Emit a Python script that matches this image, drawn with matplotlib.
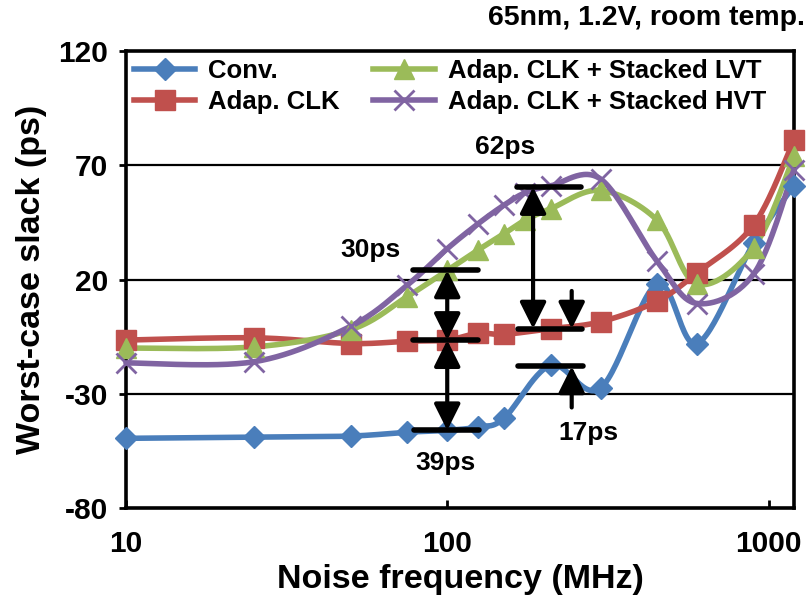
import numpy as np
import matplotlib
matplotlib.use("Agg")
import matplotlib.pyplot as plt

plt.rcParams['font.family'] = ['Liberation Sans', 'DejaVu Sans']
plt.rcParams['font.weight'] = 'bold'
plt.rcParams['axes.unicode_minus'] = False

# Noise frequency (MHz) and worst-case slack (ps) per design
conv_freq = [10, 25, 50, 75, 100, 125, 150, 210, 300, 450, 600, 900, 1200]
conv_slack = [-49.5, -49, -48.5, -46.8, -46, -44.5, -40.8, -17.5, -27.5, 18, -8, 36, 61]

clk_freq = [10, 25, 50, 75, 100, 125, 150, 210, 300, 450, 600, 900, 1200]
clk_slack = [-6.5, -5.5, -8, -7, -6.5, -3.5, -4, -1.5, 1.5, 10.5, 23, 44, 81]

lvt_freq = [10, 25, 50, 75, 100, 125, 150, 175, 210, 300, 450, 600, 900, 1200]
lvt_slack = [-10, -9.5, -2, 12.5, 24, 33, 40, 46, 51, 59, 46, 18, 34, 74]

hvt_freq = [10, 25, 50, 75, 100, 125, 150, 175, 210, 300, 450, 600, 900, 1200]
hvt_slack = [-16.5, -16, -0.5, 17.5, 33.5, 44.5, 52.5, 58, 61, 64, 28, 9.5, 22.5, 68]

series_names = ["Conv.", "Adap. CLK", "Adap. CLK + Stacked LVT", "Adap. CLK + Stacked HVT"]
y_ticks = [-80, -30, 20, 70, 120]
x_ticks = [10, 100, 1000]


def smooth(xs, ys, n=30):
    """Catmull-Rom curve through the points, in log-x space."""
    lx = np.log10(np.asarray(xs, float))
    y = np.asarray(ys, float)
    px = np.concatenate([[lx[0]], lx, [lx[-1]]])
    py = np.concatenate([[y[0]], y, [y[-1]]])
    t = np.linspace(0, 1, n)
    out_x, out_y = [], []
    for i in range(1, len(px) - 2):
        p0, p1, p2, p3 = px[i - 1], px[i], px[i + 1], px[i + 2]
        q0, q1, q2, q3 = py[i - 1], py[i], py[i + 1], py[i + 2]
        c1x, c1y = p1 + (p2 - p0) / 6, q1 + (q2 - q0) / 6
        c2x, c2y = p2 - (p3 - p1) / 6, q2 - (q3 - q1) / 6
        bx = (1 - t) ** 3 * p1 + 3 * (1 - t) ** 2 * t * c1x + 3 * (1 - t) * t ** 2 * c2x + t ** 3 * p2
        by = (1 - t) ** 3 * q1 + 3 * (1 - t) ** 2 * t * c1y + 3 * (1 - t) * t ** 2 * c2y + t ** 3 * q2
        out_x.append(bx)
        out_y.append(by)
    return 10 ** np.concatenate(out_x), np.concatenate(out_y)


fig = plt.figure(figsize=(8.09, 6.03), dpi=100)
ax = fig.add_axes([0.1557, 0.1575, 0.8257, 0.7579])
ax.set_xscale('log')
ax.set_xlim(10, 1200)
ax.set_ylim(-80, 120)

for yv in y_ticks[1:-1]:
    ax.axhline(yv, color='black', lw=1.6, zorder=1)

styles = [
    (conv_freq, conv_slack, '#4A7EBB', dict(marker='D', markersize=11)),
    (clk_freq, clk_slack, '#C0504D', dict(marker='s', markersize=14)),
    (lvt_freq, lvt_slack, '#9BBB59', dict(marker='^', markersize=15)),
    (hvt_freq, hvt_slack, '#8064A2', dict(marker='x', markersize=15, markeredgewidth=2)),
]
handles = []
for (fx, fy, col, mk), name in zip(styles, series_names):
    sx, sy = smooth(fx, fy)
    ax.plot(sx, sy, color=col, lw=4.0, zorder=3, clip_on=False, solid_capstyle='round')
    ax.plot(fx, fy, linestyle='none', color=col, zorder=4, clip_on=False, **mk)
    h, = ax.plot([], [], color=col, lw=4.0, **mk)
    handles.append(h)

leg = ax.legend(handles, series_names, ncol=2, loc='upper left',
                bbox_to_anchor=(0.0, 1.0), frameon=False, fontsize=18.5,
                handlelength=2.4, handletextpad=0.5, columnspacing=1.3,
                labelspacing=0.3, borderaxespad=0.1, borderpad=0.2, markerscale=1.0)

# Annotation bars and arrows
bar_kw = dict(color='black', lw=4, solid_capstyle='round', zorder=6)
ax.plot([78, 125], [24, 24], **bar_kw)
ax.plot([78, 125], [-6.5, -6.5], **bar_kw)
ax.plot([79, 126], [-46, -46], **bar_kw)
ax.plot([165, 260], [60.5, 60.5], **bar_kw)
ax.plot([166, 262], [-1.5, -1.5], **bar_kw)
ax.plot([166, 265], [-18, -18], **bar_kw)

arrow_kw = dict(arrowstyle='<|-|>,head_length=0.8,head_width=0.4', color='black',
                lw=3.0, mutation_scale=20, shrinkA=0, shrinkB=0)
single_kw = dict(arrowstyle='-|>,head_length=0.8,head_width=0.4', color='black',
                 lw=3.0, mutation_scale=20, shrinkA=0, shrinkB=0)
ax.annotate('', xy=(100, -6.5), xytext=(100, 24), arrowprops=arrow_kw, zorder=7)
ax.annotate('', xy=(100, -46), xytext=(100, -6.5), arrowprops=arrow_kw, zorder=7)
ax.annotate('', xy=(185, -1.5), xytext=(185, 60.5), arrowprops=arrow_kw, zorder=7)
ax.annotate('', xy=(244, -1.5), xytext=(244, 15), arrowprops=single_kw, zorder=7)
ax.annotate('', xy=(244, -18), xytext=(244, -36), arrowprops=single_kw, zorder=7)

lab_kw = dict(fontsize=19, fontweight='bold', ha='center', va='center', zorder=8)
ax.text(151, 78, '62ps', **lab_kw)
ax.text(57.5, 33, '30ps', **lab_kw)
ax.text(99, -60.5, '39ps', **lab_kw)
ax.text(275, -47, '17ps', **lab_kw)

ax.set_yticks(y_ticks)
ax.set_yticklabels([str(v) for v in y_ticks])
ax.set_xticks(x_ticks)
ax.set_xticklabels([str(v) for v in x_ticks])
ax.xaxis.set_minor_locator(matplotlib.ticker.NullLocator())
ax.tick_params(axis='x', direction='in', length=6, width=2, labelsize=21.5, pad=16)
ax.tick_params(axis='y', direction='out', length=5, width=2, labelsize=21.5, pad=8)
for s in ax.spines.values():
    s.set_linewidth(2.6)
    s.set_color('black')

ax.set_xlabel('Noise frequency (MHz)', fontsize=24.5, fontweight='bold', labelpad=4)
ax.set_ylabel('Worst-case slack (ps)', fontsize=24.5, fontweight='bold', labelpad=8)
fig.text(0.995, 0.97, '65nm, 1.2V, room temp.', ha='right', va='center',
         fontsize=20.5, fontweight='bold')

fig.savefig('out.png', dpi=100)
